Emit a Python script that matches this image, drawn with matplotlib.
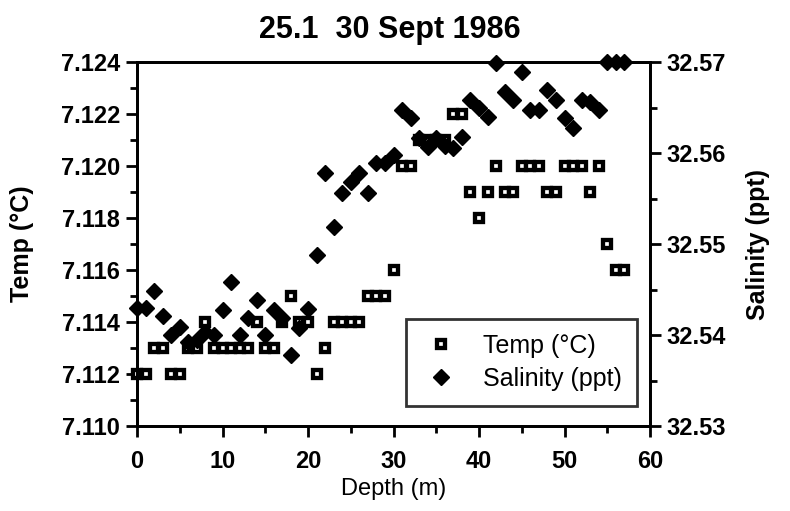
import numpy as np
import matplotlib.pyplot as plt
from matplotlib.ticker import MultipleLocator, FormatStrFormatter

plt.rcParams['font.family'] = ['Liberation Sans', 'DejaVu Sans']

# depth (m) for each reading
depth = list(range(58))

# temperature readings (deg C)
temp = [7.112, 7.112, 7.113, 7.113, 7.112, 7.112, 7.113, 7.113, 7.114, 7.113,
        7.113, 7.113, 7.113, 7.113, 7.114, 7.113, 7.113, 7.114, 7.115, 7.114,
        7.114, 7.112, 7.113, 7.114, 7.114, 7.114, 7.114, 7.115, 7.115, 7.115,
        7.116, 7.120, 7.120, 7.121, 7.121, 7.121, 7.121, 7.122, 7.122, 7.119,
        7.118, 7.119, 7.120, 7.119, 7.119, 7.120, 7.120, 7.120, 7.119, 7.119,
        7.120, 7.120, 7.120, 7.119, 7.120, 7.117, 7.116, 7.116]

# salinity readings (ppt)
salinity = [32.5430, 32.5430, 32.5448, 32.5421, 32.5400, 32.5409, 32.5392, 32.5394, 32.5403, 32.5400,
            32.5427, 32.5458, 32.5400, 32.5419, 32.5438, 32.5400, 32.5427, 32.5419, 32.5378, 32.5408,
            32.5429, 32.5488, 32.5578, 32.5519, 32.5556, 32.5568, 32.5578, 32.5556, 32.5589, 32.5589,
            32.5598, 32.5647, 32.5638, 32.5617, 32.5607, 32.5617, 32.5608, 32.5606, 32.5618, 32.5658,
            32.5649, 32.5640, 32.5699, 32.5667, 32.5658, 32.5689, 32.5647, 32.5647, 32.5669, 32.5658,
            32.5638, 32.5627, 32.5658, 32.5656, 32.5647, 32.5700, 32.5700, 32.5700]

fig = plt.figure(figsize=(7.9, 5.11), dpi=100)
ax = fig.add_axes([137/790, 1 - 426/511, (650 - 137)/790, (426 - 62)/511])
ax2 = ax.twinx()

h1, = ax.plot(depth, temp, ls='none', marker='s', ms=5.5, mfc='white', mec='black',
              mew=3.1, clip_on=False, label='Temp (°C)')
h2, = ax2.plot(depth, salinity, ls='none', marker='D', ms=8, color='black',
               clip_on=False, label='Salinity (ppt)')

ax.set_xlim(0, 60)
ax.set_ylim(7.110, 7.124)
ax2.set_ylim(32.53, 32.57)

ax.xaxis.set_major_locator(MultipleLocator(10))
ax.xaxis.set_minor_locator(MultipleLocator(5))
ax.yaxis.set_major_locator(MultipleLocator(0.002))
ax.yaxis.set_minor_locator(MultipleLocator(0.001))
ax.yaxis.set_major_formatter(FormatStrFormatter('%.3f'))
ax2.yaxis.set_major_locator(MultipleLocator(0.01))
ax2.yaxis.set_minor_locator(MultipleLocator(0.005))
ax2.yaxis.set_major_formatter(FormatStrFormatter('%.2f'))

for a in (ax, ax2):
    a.tick_params(which='major', direction='out', length=8, width=2, labelsize=17, pad=4)
    a.tick_params(which='minor', direction='out', length=5, width=2)
    for s in a.spines.values():
        s.set_linewidth(2)
ax.tick_params(axis='x', pad=9)
for lab in ax.get_xticklabels() + ax.get_yticklabels() + ax2.get_yticklabels():
    lab.set_fontweight('bold')

ax.set_xlabel('Depth (m)', fontsize=17, labelpad=4)
ax.set_ylabel('Temp (°C)', fontsize=18, fontweight='bold')
ax.yaxis.set_label_coords(-0.2, 0.5)
ax2.set_ylabel('Salinity (ppt)', fontsize=18, fontweight='bold', labelpad=14)

fig.text(390/790, 1 - 30/511, '25.1  30 Sept 1986', ha='center', va='center',
         fontsize=22, fontweight='bold')

leg = ax2.legend(handles=[h1, h2], loc='lower right', bbox_to_anchor=(0.975, 0.055),
                 fontsize=18, frameon=True, fancybox=False, borderpad=0.6,
                 handletextpad=0.9, labelspacing=0.35, handlelength=1.6,
                 borderaxespad=0)
leg.get_frame().set_edgecolor('black')
leg.get_frame().set_linewidth(2)

fig.savefig('out.png', dpi=100)
